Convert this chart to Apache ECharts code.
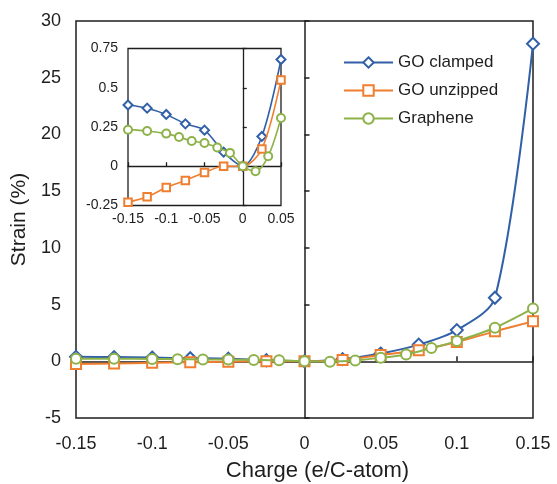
<!DOCTYPE html>
<html><head><meta charset="utf-8">
<script src="https://cdn.jsdelivr.net/npm/echarts@6/dist/echarts.min.js"></script>
<style>html,body{margin:0;padding:0;background:#fff}#c{width:557px;height:484px}</style>
</head><body><div id="c"></div>
<script>
// ---- data ----
const seriesNames = ['GO clamped', 'GO unzipped', 'Graphene'];
const clampedX = [-0.15, -0.125, -0.1, -0.075, -0.05, -0.025, 0, 0.025, 0.05, 0.075, 0.1, 0.125, 0.15];
const clampedY = [0.39, 0.37, 0.33, 0.27, 0.23, 0.09, 0, 0.19, 0.68, 1.47, 2.75, 5.6, 28.0];
const unzippedX = [-0.15, -0.125, -0.1, -0.075, -0.05, -0.025, 0, 0.025, 0.05, 0.075, 0.1, 0.125, 0.15];
const unzippedY = [-0.23, -0.195, -0.136, -0.09, -0.04, 0, 0, 0.11, 0.55, 0.97, 1.7, 2.64, 3.52];
const grapheneX = [-0.15, -0.125, -0.1, -0.0833, -0.0667, -0.05, -0.0333, -0.0167, 0, 0.0167, 0.0333, 0.05, 0.0667, 0.0833, 0.1, 0.125, 0.15];
const grapheneY = [0.233, 0.225, 0.208, 0.186, 0.161, 0.148, 0.119, 0.085, 0, -0.032, 0.064, 0.307, 0.6, 1.17, 1.78, 2.96, 4.66];

const mainXTicks = [-0.15, -0.1, -0.05, 0, 0.05, 0.1, 0.15];
const mainYTicks = [-5, 0, 5, 10, 15, 20, 25, 30];
const insetXTicks = [-0.15, -0.1, -0.05, 0, 0.05];
const insetYTicks = [-0.25, 0, 0.25, 0.5, 0.75];

// ---- styling ----
const colors = ['#3260a8', '#f07e2f', '#8db24a'];
const symbols = ['emptyDiamond', 'emptyRect', 'emptyCircle'];
const mainSizes = [12, 10, 10];
const insetSizes = [9, 7.5, 8];
const ink = '#1e1e1e';
const xs = [clampedX, unzippedX, grapheneX];
const ys = [clampedY, unzippedY, grapheneY];

function pairs(xa, ya, xmax) {
  const out = [];
  for (let i = 0; i < xa.length; i++) if (xmax == null || xa[i] <= xmax + 1e-9) out.push([xa[i], ya[i]]);
  return out;
}

const lastX = insetXTicks[insetXTicks.length - 1];
const series = [];
for (let k = 0; k < 3; k++) {
  series.push({
    name: seriesNames[k], type: 'line', xAxisIndex: 0, yAxisIndex: 0,
    data: pairs(xs[k], ys[k]), smooth: 0.3,
    symbol: symbols[k], symbolSize: mainSizes[k], showAllSymbol: true,
    itemStyle: { color: colors[k], borderWidth: 2 },
    lineStyle: { color: colors[k], width: 2 }, z: 3 + k
  });
}
for (let k = 0; k < 3; k++) {
  series.push({
    name: seriesNames[k], type: 'line', xAxisIndex: 2, yAxisIndex: 2,
    data: pairs(xs[k], ys[k], lastX), smooth: 0.3,
    symbol: symbols[k], symbolSize: insetSizes[k], showAllSymbol: true,
    itemStyle: { color: colors[k], borderWidth: 1.6 },
    lineStyle: { color: colors[k], width: 1.6 }, z: 3 + k
  });
}

function step(t) { return Math.round((t[1] - t[0]) * 1e6) / 1e6; }

const labelAxis = (extra) => Object.assign({
  type: 'value', splitLine: { show: false },
  axisLine: { show: false, onZero: false }, axisTick: { show: false }
}, extra);
const zeroAxis = (extra, len, w) => Object.assign({
  type: 'value', splitLine: { show: false }, axisLabel: { show: false },
  axisLine: { show: true, onZero: true, lineStyle: { color: ink, width: w } },
  axisTick: { show: true, inside: true, length: len, lineStyle: { color: ink, width: w } }
}, extra);

const option = {
  backgroundColor: '#fff',
  animation: false,
  textStyle: { fontFamily: 'Liberation Sans, Arial, sans-serif' },
  grid: [
    { left: 76, top: 21, width: 457, height: 397, show: true, borderColor: ink, borderWidth: 1.5, backgroundColor: 'transparent', outerBoundsMode: 'none', containLabel: false },
    { left: 128, top: 48.5, width: 153, height: 157, show: true, borderColor: ink, borderWidth: 1.3, backgroundColor: '#fff', outerBoundsMode: 'none', containLabel: false }
  ],
  legend: {
    data: seriesNames, orient: 'vertical', left: 343, top: 54, padding: 0,
    itemWidth: 49, itemHeight: 13, itemGap: 11,
    textStyle: { fontSize: 17, color: ink, fontFamily: 'Liberation Sans, Arial, sans-serif' }
  },
  xAxis: [
    labelAxis({ gridIndex: 0, position: 'bottom', min: mainXTicks[0], max: mainXTicks[mainXTicks.length - 1], interval: step(mainXTicks),
      axisLabel: { fontSize: 18, color: ink, margin: 17, showMinLabel: true, showMaxLabel: true },
      name: 'Charge (e/C-atom)', nameLocation: 'middle', nameGap: 42,
      nameTextStyle: { fontSize: 22, color: ink, padding: [0, 0, 0, 26] } }),
    zeroAxis({ gridIndex: 0, position: 'bottom', min: mainXTicks[0], max: mainXTicks[mainXTicks.length - 1], interval: step(mainXTicks),
      axisLine: { show: true, onZero: true, onZeroAxisIndex: 0, lineStyle: { color: ink, width: 1.5 } } }, 5, 1.5),
    labelAxis({ gridIndex: 1, position: 'bottom', min: insetXTicks[0], max: insetXTicks[insetXTicks.length - 1], interval: step(insetXTicks),
      axisLabel: { fontSize: 14, color: ink, margin: 7, showMinLabel: true, showMaxLabel: true } }),
    zeroAxis({ gridIndex: 1, position: 'bottom', min: insetXTicks[0], max: insetXTicks[insetXTicks.length - 1], interval: step(insetXTicks),
      axisLine: { show: true, onZero: true, onZeroAxisIndex: 2, lineStyle: { color: ink, width: 1.3 } } }, 4, 1.3)
  ],
  yAxis: [
    labelAxis({ gridIndex: 0, position: 'left', min: mainYTicks[0], max: mainYTicks[mainYTicks.length - 1], interval: step(mainYTicks),
      axisLabel: { fontSize: 18, color: ink, margin: 15, showMinLabel: true, showMaxLabel: true },
      name: 'Strain (%)', nameLocation: 'middle', nameGap: 44,
      nameTextStyle: { fontSize: 21, color: ink } }),
    zeroAxis({ gridIndex: 0, position: 'left', min: mainYTicks[0], max: mainYTicks[mainYTicks.length - 1], interval: step(mainYTicks),
      axisLine: { show: true, onZero: true, onZeroAxisIndex: 0, lineStyle: { color: ink, width: 1.5 } } }, 5, 1.5),
    labelAxis({ gridIndex: 1, position: 'left', min: insetYTicks[0], max: insetYTicks[insetYTicks.length - 1], interval: step(insetYTicks),
      axisLabel: { fontSize: 14, color: ink, margin: 10, showMinLabel: true, showMaxLabel: true } }),
    zeroAxis({ gridIndex: 1, position: 'left', min: insetYTicks[0], max: insetYTicks[insetYTicks.length - 1], interval: step(insetYTicks),
      axisLine: { show: true, onZero: true, onZeroAxisIndex: 2, lineStyle: { color: ink, width: 1.3 } } }, 4, 1.3)
  ],
  series: series
};

const chart = echarts.init(document.getElementById('c'), null, { renderer: 'canvas' });
chart.setOption(option);
</script>
</body></html>
